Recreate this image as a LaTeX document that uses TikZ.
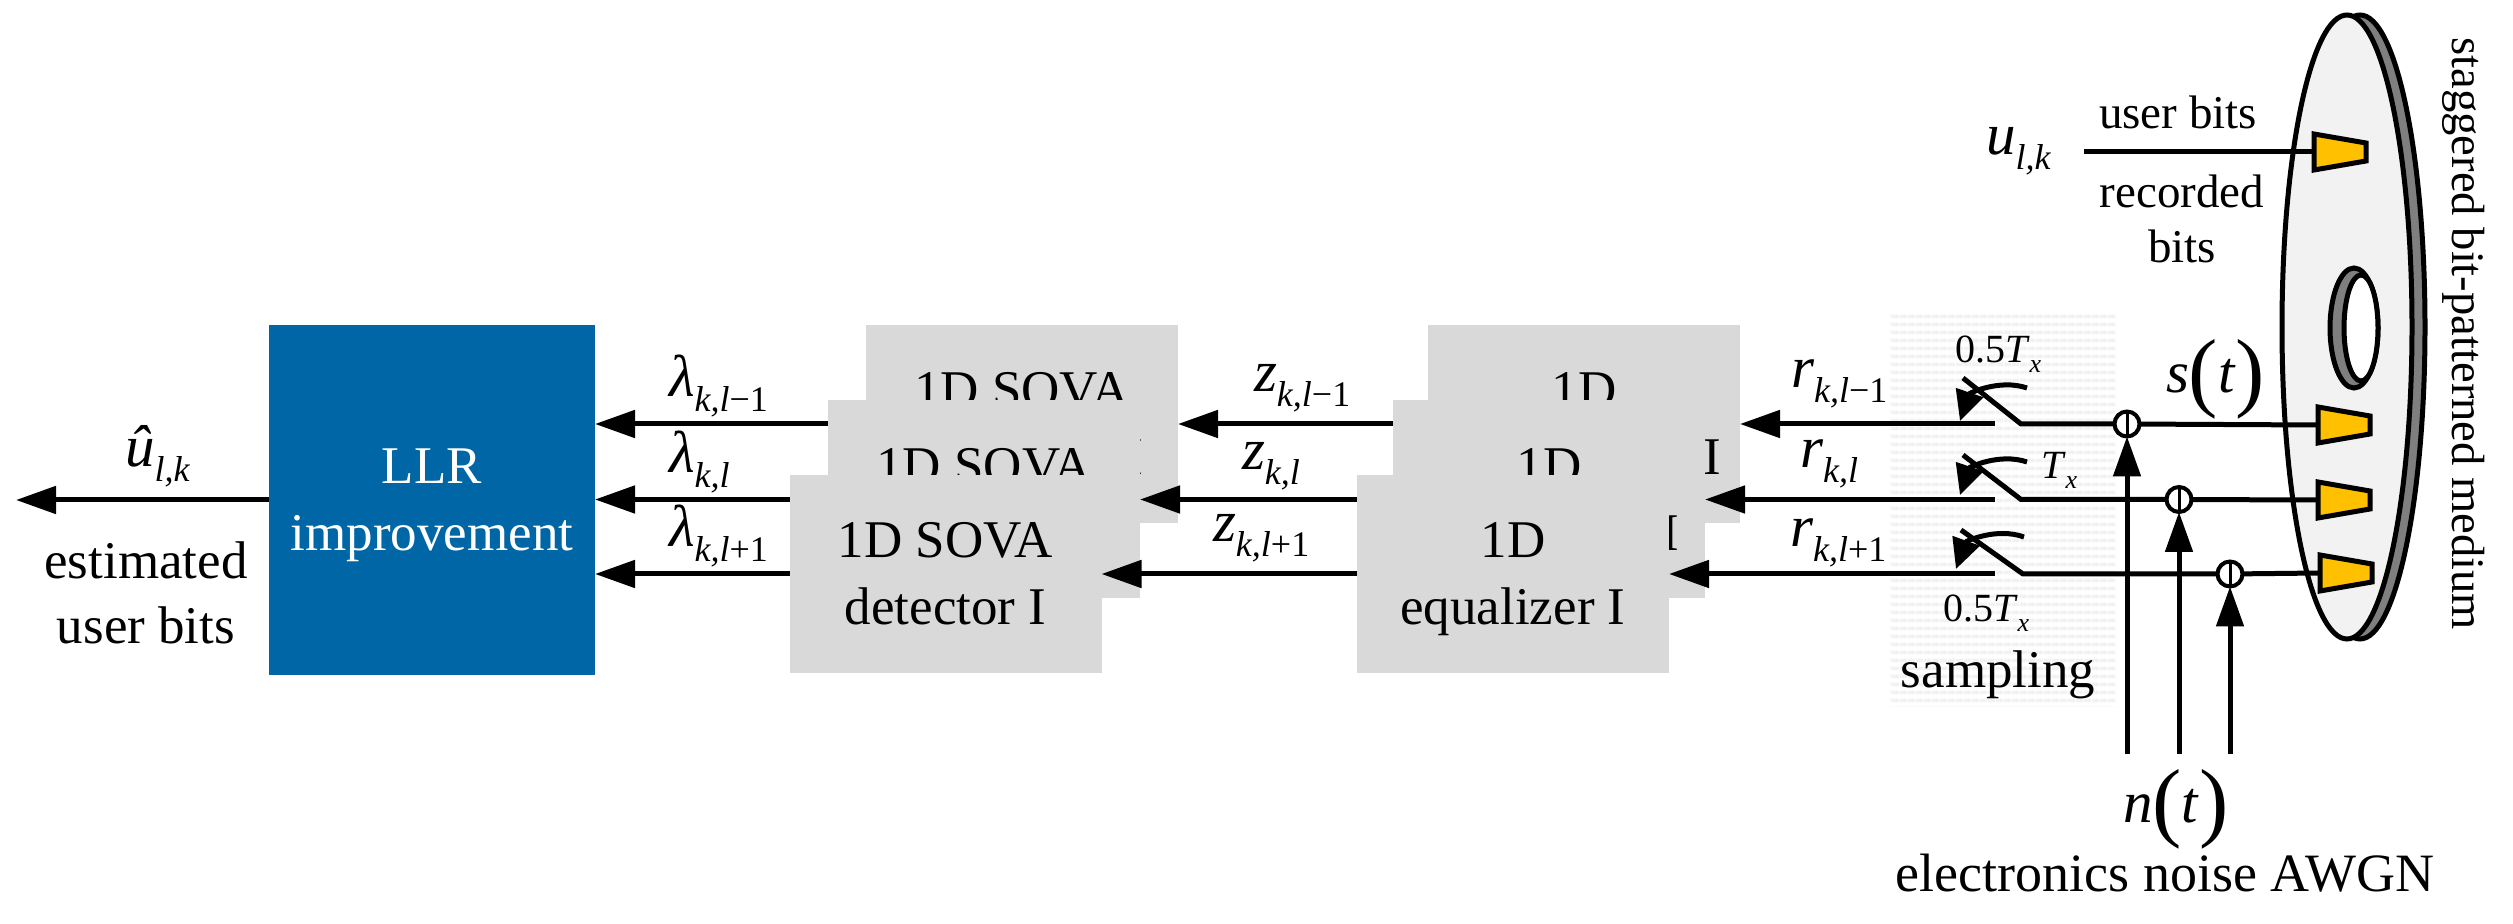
\documentclass[tikz,border=0pt]{standalone}
\usepackage{fontspec}
\setmainfont{Liberation Serif}
\usetikzlibrary{arrows.meta,shapes.geometric,patterns.meta}
\definecolor{boxgray}{HTML}{D9D9D9}
\definecolor{llrblue}{HTML}{0066A6}
\definecolor{headgold}{HTML}{FFC000}
\definecolor{facegray}{HTML}{F2F2F2}
\definecolor{rimgray}{HTML}{7F7F7F}
\tikzset{>={Triangle[length=20pt,width=13.5pt]},font=\fontsize{26.5}{33.5}\selectfont}
\tikzset{
  chanbox/.style={fill=boxgray,minimum width=156pt,minimum height=99pt,inner sep=0pt,outer sep=0pt,align=center},
  sym/.style={anchor=base west,inner sep=0pt,outer sep=0pt},
  txt/.style={anchor=base,inner sep=0pt,outer sep=0pt,align=center},
  summer/.style={circle,draw,line width=2pt,minimum size=12.5pt,inner sep=0pt,outer sep=0pt,
    path picture={\draw[line width=1.5pt] (path picture bounding box.north) -- (path picture bounding box.south);}},
  swtip/.style={-{Triangle[length=15pt,width=14pt]}}
}
\newcommand{\bigsym}[1]{{\fontsize{29.5}{29.5}\selectfont\textit{#1}}}
\newcommand{\chan}[2]{\bigsym{#1}\raisebox{-7.5pt}{\fontsize{18}{18}\selectfont #2}}
\newcommand{\bigpar}[1]{\raisebox{-4pt}{\fontsize{44}{44}\selectfont(}\bigsym{#1}\raisebox{-4pt}{\fontsize{44}{44}\selectfont)}}
\newcommand{\twolines}[2]{\rule{0pt}{23pt}#1\\#2\vphantom{q}}
\newcommand{\period}[1]{\fontsize{20}{20}\selectfont #1\textit{T}\raisebox{-5pt}{\fontsize{13}{13}\selectfont\textit{x}}}
\newcommand{\wirehead}[3]{
  \draw[fill=headgold,shift={(#2,#3)}] (-26,-18) -- (26,-9) -- (26,9) -- (-26,18) -- cycle;
  \coordinate (#1) at (#2-26,#3);
}
\begin{document}
\begin{tikzpicture}[x=0.5pt,y=-0.5pt,line width=2.5pt]
\useasboundingbox (0,0) rectangle (2513,924);
% sampling background
\node (samp) [pattern={Lines[angle=0,distance=4pt,line width=2pt]},pattern color=facegray,
  minimum width=113pt,minimum height=197.5pt,inner sep=0pt] at (2003,509.5) {};
% medium
\draw[fill=rimgray] (2360,327) ellipse [x radius=65,y radius=312];
\draw[fill=facegray] (2347,327) ellipse [x radius=65,y radius=312];
\draw[fill=rimgray] (2354,328) ellipse [x radius=24,y radius=60];
\draw[fill=white] (2361,328) ellipse [x radius=17,y radius=53];
\wirehead{headu}{2340}{152}
\wirehead{heada}{2344}{425}
\wirehead{headb}{2344}{500}
\wirehead{headc}{2346}{573}
\coordinate (ubits) at (2084,152);
\draw (ubits) -- (headu);
\node (ulk) [sym] at (1986,155) {\chan{u}{\textit{l,k}}};
\node (userbits) [txt,font=\fontsize{23.5}{23.5}\selectfont] at (2178,129) {user bits};
\node (recbits) [txt,font=\fontsize{23.5}{27.5}\selectfont] at (2182,263) {recorded\\bits};
\node (medium) [anchor=base west,inner sep=0pt,rotate=-90,font=\fontsize{23.3}{23.3}\selectfont] at (2452,35) {staggered bit-patterned medium};
% LLR block
\node (llr) [fill=llrblue,text=white,minimum width=163pt,minimum height=175pt,inner sep=0pt,outer sep=0pt,align=center] at (432,500) {\twolines{LLR}{improvement}};
\coordinate (out) at (16,500);
\draw[->] (llr.west) -- (out);
\node (uhat) [sym] at (125,467) {\chan{û}{\textit{l,k}}};
\node (estbits) [txt,font=\fontsize{26.5}{32.5}\selectfont] at (146,644) {estimated\\user bits};
% row l-1
\node (sovaa) [chanbox] at (1022,424) {\twolines{1D SOVA}{detector\hspace{20pt} I}};
\node (eqa) [chanbox] at (1584,424) {\twolines{1D}{equalizer\hspace{25pt} I}};
\coordinate (swaL) at (1995,424);
\coordinate (swaR) at (2021,424);
\coordinate (swaT) at (1963,378);
\coordinate (swaS) at (2027,388);
\coordinate (swaE) at (1960,421);
\node (suma) [summer] at (2127,424) {};
\draw[->] (sovaa.west) -- (llr.east |- sovaa.west);
\draw[->] (eqa.west) -- (sovaa.east);
\draw[->] (swaL) -- (eqa.east);
\draw (heada) -- (suma) -- (swaR) -- (swaT);
\draw[swtip] (swaS) to[bend right=45] (swaE);
% row l
\node (sovab) [chanbox] at (984,499.5) {\twolines{1D SOVA}{detector I}};
\node (eqb) [chanbox] at (1549,499.5) {\twolines{1D}{equalizer\hspace{18pt} I}};
\coordinate (swbL) at (1995,499.5);
\coordinate (swbR) at (2021,499.5);
\coordinate (swbT) at (1963,455);
\coordinate (swbS) at (2027,462);
\coordinate (swbE) at (1960,495);
\node (sumb) [summer] at (2179,499.5) {};
\draw[->] (sovab.west) -- (llr.east |- sovab.west);
\draw[->] (eqb.west) -- (sovab.east);
\draw[->] (swbL) -- (eqb.east);
\draw (headb) -- (sumb) -- (swbR) -- (swbT);
\draw[swtip] (swbS) to[bend right=45] (swbE);
% row l+1
\node (sovac) [chanbox] at (945.5,574) {\twolines{1D SOVA}{detector I}};
\node (eqc) [chanbox] at (1513,574) {\twolines{1D}{equalizer I}};
\coordinate (swcL) at (1995,574);
\coordinate (swcR) at (2023,574);
\coordinate (swcT) at (1961,530);
\coordinate (swcS) at (2024,537);
\coordinate (swcE) at (1956,569);
\node (sumc) [summer] at (2230,574) {};
\draw[->] (sovac.west) -- (llr.east |- sovac.west);
\draw[->] (eqc.west) -- (sovac.east);
\draw[->] (swcL) -- (eqc.east);
\draw (headc) -- (sumc) -- (swcR) -- (swcT);
\draw[swtip] (swcS) to[bend right=45] (swcE);
% noise
\coordinate (nsa) at (2127,754);
\coordinate (nsb) at (2179,754);
\coordinate (nsc) at (2230,754);
\draw[->] (nsa) -- (suma.south);
\draw[->] (nsb) -- (sumb.south);
\draw[->] (nsc) -- (sumc.south);
% labels
\node (lama) [sym] at (669,397) {\chan{λ}{\textit{k,l}−1}};
\node (lamb) [sym] at (669,473) {\chan{λ}{\textit{k,l}}};
\node (lamc) [sym] at (669,547) {\chan{λ}{\textit{k,l}+1}};
\node (za) [sym] at (1254,392) {\chan{z}{\textit{k,l}−1}};
\node (zb) [sym] at (1242,470) {\chan{z}{\textit{k,l}}};
\node (zc) [sym] at (1213,542) {\chan{z}{\textit{k,l}+1}};
\node (ra) [sym] at (1791,388) {\chan{r}{\textit{k,l}−1}};
\node (rb) [sym] at (1800,468) {\chan{r}{\textit{k,l}}};
\node (rc) [sym] at (1790,547) {\chan{r}{\textit{k,l}+1}};
\node (ta) [sym] at (1955,363) {\period{0.5}};
\node (tb) [sym] at (2041,479) {\period{}};
\node (tc) [sym] at (1943,622) {\period{0.5}};
\node (sampling) [txt] at (1998,688) {sampling};
\node (st) [sym] at (2166,393) {\bigsym{s}\bigpar{t}};
\node (nt) [sym] at (2123,822) {\bigsym{n}\bigpar{t}};
\node (awgn) [txt,font=\fontsize{27}{27}\selectfont] at (2165,892) {electronics noise AWGN};
\end{tikzpicture}
\end{document}
